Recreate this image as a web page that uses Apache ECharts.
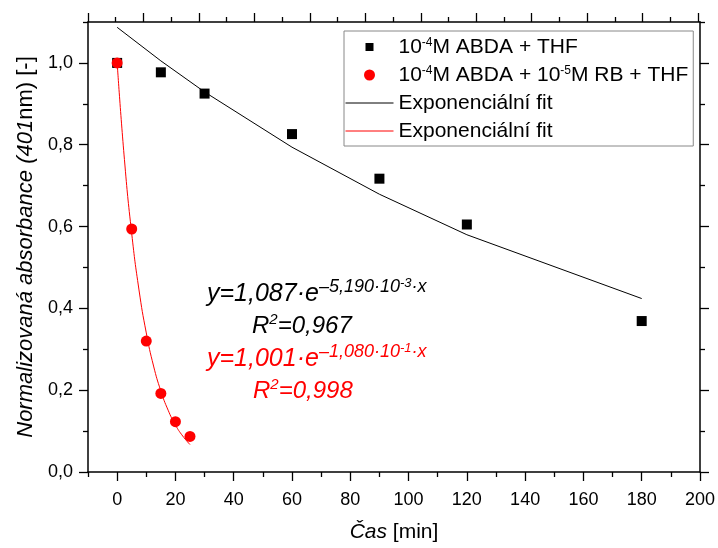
<!DOCTYPE html>
<html>
<head>
<meta charset="utf-8">
<script src="https://cdn.jsdelivr.net/npm/echarts@6/dist/echarts.min.js"></script>
<style>
html,body{margin:0;padding:0;background:#fff;}
#chart{width:718px;height:548px;}
</style>
</head>
<body>
<div id="chart"></div>
<script>
// ---- data ----
const xBlack = [0, 15, 30, 60, 90, 120, 180];
const yBlack = [1.0, 0.977, 0.925, 0.826, 0.717, 0.605, 0.369];
const xRed = [0, 5, 10, 15, 20, 25];
const yRed = [1.0, 0.594, 0.320, 0.192, 0.123, 0.087];
const xFitBlack = [0, 15, 30, 60, 90, 120, 180];
const yFitBlack = [1.087, 1.005, 0.929, 0.794, 0.679, 0.580, 0.424];
const xFitRed = [0, 2.5, 5, 7.5, 10, 12.5, 15, 17.5, 20, 22.5, 25];
const yFitRed = [1.001, 0.764, 0.583, 0.445, 0.340, 0.259, 0.198, 0.151, 0.115, 0.088, 0.067];

const xMajorTicks = [0, 20, 40, 60, 80, 100, 120, 140, 160, 180, 200];
const xMinorTicks = [-10, 10, 30, 50, 70, 90, 110, 130, 150, 170, 190];
const topMajorTicks = [0, 20, 40, 60, 80, 100, 120, 140, 160, 180, 200, 220];
const topMinorTicks = [10, 30, 50, 70, 90, 110, 130, 150, 170, 190, 210];
const yMajorTicks = [0, 0.2, 0.4, 0.6, 0.8, 1.0];
const yMinorTicks = [0.1, 0.3, 0.5, 0.7, 0.9, 1.1];

const legendNames = {
  black: '{m|10}{s|-4}{m|M ABDA + THF}',
  red: '{m|10}{s|-4}{m|M ABDA + 10}{s|-5}{m|M RB + THF}',
  fitBlack: '{m|Exponenciální fit}',
  fitRed: '{m|Exponenciální fit}'
};

const FONT = '"Liberation Sans", Arial, sans-serif';
const zip = (xs, ys) => xs.map((x, i) => [x, ys[i]]);
const lineStyle = { color: '#000', width: 1.5 };
const comma = v => v.toFixed(1).replace('.', ',');

function ax(pos, min, max, ticks, len, showLine, labels, extra) {
  return Object.assign({
    type: 'value', position: pos, min: min, max: max, gridIndex: 0,
    axisLine: { show: showLine, onZero: false, lineStyle: lineStyle },
    axisTick: { show: true, inside: false, length: len, customValues: ticks, lineStyle: { color: '#000', width: 1.3 } },
    axisLabel: labels ? { show: true, customValues: ticks, fontSize: 18, fontFamily: FONT, color: '#000', margin: pos === 'bottom' ? 19 : 15, formatter: labels } : { show: false },
    splitLine: { show: false }
  }, extra || {});
}

function eqText(x, y, color, main, sup, supsup, sup2) {
  return { type: 'text', x: x, y: y, silent: true, style: {
    text: '{m|' + main + '}{s|' + sup + '}{ss|' + supsup + '}{s|' + sup2 + '}', fill: color,
    rich: {
      m: { fontSize: 25, fontStyle: 'italic', fontFamily: FONT, fill: color, lineHeight: 27, padding: [12, 0, 0, 0] },
      s: { fontSize: 18, fontStyle: 'italic', fontFamily: FONT, fill: color, lineHeight: 18, padding: [3, 0, 0, 0], verticalAlign: 'top' },
      ss: { fontSize: 13, fontStyle: 'italic', fontFamily: FONT, fill: color, lineHeight: 13, padding: [2, 0, 0, 0], verticalAlign: 'top' }
    } } };
}
function rText(x, y, color, val) {
  return { type: 'text', x: x, y: y, silent: true, style: {
    text: '{m|R}{s|2}{m|=' + val + '}', fill: color,
    rich: {
      m: { fontSize: 24, fontStyle: 'italic', fontFamily: FONT, fill: color, lineHeight: 26, padding: [6, 0, 0, 0] },
      s: { fontSize: 15, fontStyle: 'italic', fontFamily: FONT, fill: color, lineHeight: 15, padding: [2, 0, 0, 0], verticalAlign: 'top' }
    } } };
}

const chart = echarts.init(document.getElementById('chart'), null, { renderer: 'canvas' });
chart.setOption({
  animation: false,
  backgroundColor: '#fff',
  grid: { left: 88, right: 17, top: 22, bottom: 70, containLabel: false },
  xAxis: [
    ax('bottom', -10, 200, xMajorTicks, 9, true, v => String(v), {
      name: '{i|Čas} {n|[min]}', nameLocation: 'middle', nameGap: 50,
      nameTextStyle: { fontSize: 21, fontFamily: FONT, color: '#000',
        rich: { i: { fontStyle: 'italic', fontSize: 21, fontFamily: FONT }, n: { fontSize: 21, fontFamily: FONT } } }
    }),
    ax('bottom', -10, 200, xMinorTicks, 5, false, null),
    ax('top', 0, 220.7, topMajorTicks, 9, true, null),
    ax('top', 0, 220.7, topMinorTicks, 5, false, null)
  ],
  yAxis: [
    ax('left', 0, 1.1, yMajorTicks, 9, true, comma, {
      name: '{i|Normalizovaná absorbance (401}{n|nm) [-]}', nameLocation: 'middle', nameGap: 50,
      nameTextStyle: { fontSize: 22, fontFamily: FONT, color: '#000',
        rich: { i: { fontStyle: 'italic', fontSize: 22, fontFamily: FONT }, n: { fontSize: 22, fontFamily: FONT } } }
    }),
    ax('left', 0, 1.1, yMinorTicks, 5, false, null),
    ax('right', 0, 1.1, yMajorTicks, 9, true, null),
    ax('right', 0, 1.1, yMinorTicks, 5, false, null)
  ],
  legend: {
    orient: 'vertical', left: 344, top: 31,
    padding: [4, 5, 3, 1], itemGap: 4,
    itemWidth: 48, itemHeight: 11,
    borderColor: '#888', borderWidth: 1, borderRadius: 0,
    selectedMode: false, align: 'left',
    textStyle: {
      fontSize: 21, fontFamily: FONT, color: '#000',
      rich: {
        m: { fontSize: 21, fontFamily: FONT, color: '#000', lineHeight: 24, padding: [2, 0, 1, 0] },
        s: { fontSize: 12, fontFamily: FONT, color: '#000', lineHeight: 12, padding: [2, 0, 0, 0], verticalAlign: 'top' }
      }
    },
    formatter: name => legendNames[name],
    data: [
      { name: 'black', icon: 'path://M0,0M11,11M1.5,1.5L9.5,1.5L9.5,9.5L1.5,9.5Z', itemStyle: { color: '#000', opacity: 1 } },
      { name: 'red', icon: 'circle', itemStyle: { color: '#ff0000', opacity: 1 } },
      { name: 'fitBlack', itemStyle: { opacity: 0 }, lineStyle: { width: 1, color: '#000' } },
      { name: 'fitRed', itemStyle: { opacity: 0 }, lineStyle: { width: 1, color: '#ff0000' } }
    ]
  },
  series: [
    { name: 'black', type: 'scatter', symbol: 'rect', symbolSize: 10, itemStyle: { color: '#000', opacity: 1 }, data: zip(xBlack, yBlack), z: 3 },
    { name: 'red', type: 'scatter', symbol: 'circle', symbolSize: 11, itemStyle: { color: '#ff0000', opacity: 1 }, data: zip(xRed, yRed), z: 3 },
    { name: 'fitBlack', type: 'line', symbol: 'none', lineStyle: { color: '#000', width: 1 }, itemStyle: { color: '#000' }, data: zip(xFitBlack, yFitBlack), z: 4 },
    { name: 'fitRed', type: 'line', symbol: 'none', smooth: true, lineStyle: { color: '#ff0000', width: 1 }, itemStyle: { color: '#ff0000' }, data: zip(xFitRed, yFitRed), z: 4 }
  ],
  graphic: [
    eqText(207, 275, '#000', 'y=1,087·e', '–5,190·10', '-3', '·x'),
    rText(252, 310, '#000', '0,967'),
    eqText(207, 340, '#ff0000', 'y=1,001·e', '–1,080·10', '-1', '·x'),
    rText(253, 375, '#ff0000', '0,998')
  ]
});
</script>
</body>
</html>
